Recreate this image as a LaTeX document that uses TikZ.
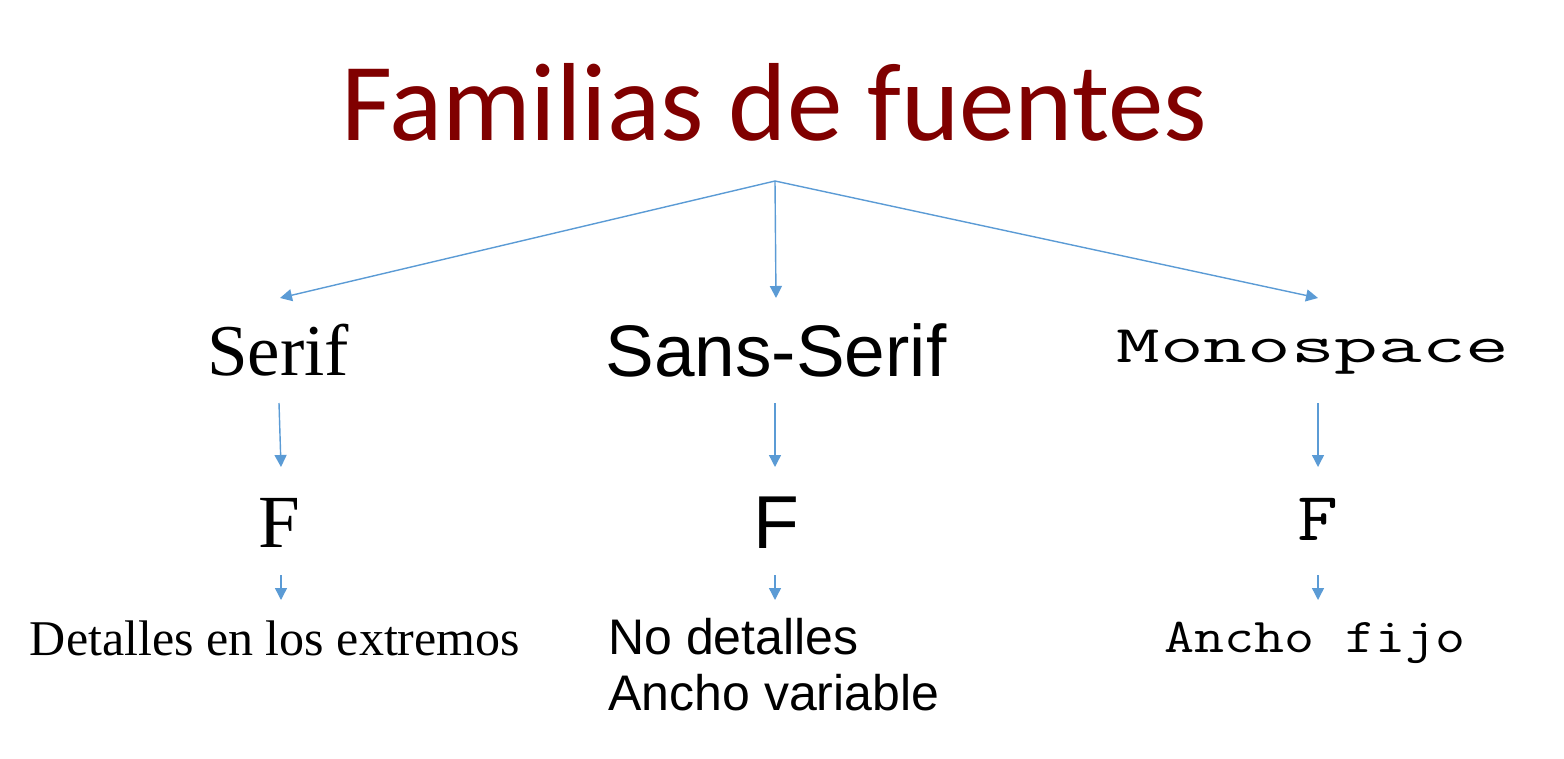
\documentclass[tikz,border=0pt]{standalone}
\usepackage{fontspec}
\setmainfont{Liberation Serif}
\newfontfamily\titlefont{Carlito}
\newfontfamily\arialfont{Liberation Sans}
\usepackage{tikz}
\usetikzlibrary{arrows.meta, positioning}

\definecolor{titlered}{RGB}{128,0,0}
\definecolor{arrowblue}{RGB}{91,155,213}

% text monospatiat, latit pe orizontala
\newcommand{\widemono}[3]{\scalebox{#1}[1]{\ttfamily\fontsize{#2}{#2}\selectfont #3}}

\begin{document}
\begin{tikzpicture}[x=0.5pt, y=-0.5pt, >={Triangle[length=6pt, width=6pt]}]
        % Stiluri
        \tikzset{
            label/.style = {anchor=base, inner sep=0pt, text=black},
            link/.style = {->, draw=arrowblue, line width=0.7pt}
        }
        \useasboundingbox (0,0) rectangle (1564,759);

        % Titlu
        \node [label, text=titlered, font=\titlefont\fontsize{55.5}{60}\selectfont] (title) at (774,141) {Familias de fuentes};

        % Familii
        \node [label, font=\fontsize{36.5}{40}\selectfont] (serif) at (278,375) {Serif};
        \node [label, font=\arialfont\fontsize{36.5}{40}\selectfont] (sans) at (776,377) {Sans-Serif};
        \node [label] (mono) at (1313,363) {\widemono{1.6}{26.5}{Monospace}};

        % Litere
        \node [label, font=\fontsize{37.5}{40}\selectfont] (fserif) at (279,547) {F};
        \node [label, font=\arialfont\fontsize{37.5}{40}\selectfont] (fsans) at (776,548) {F};
        \node [label] (fmono) at (1318,540) {\widemono{1.15}{34.5}{F}};

        % Descrieri
        \node [label, font=\fontsize{25}{28}\selectfont] (dserif) at (275,655) {Detalles en los extremos};
        \node [label, anchor=base west, font=\arialfont\fontsize{25}{28}\selectfont] (dsans) at (608,654) {No detalles};
        \node [label, anchor=base west, font=\arialfont\fontsize{25}{28}\selectfont] (dvar) at (608,710) {Ancho variable};
        \node [label] (dmono) at (1315,652) {\widemono{1.2}{24.3}{Ancho fijo}};

        % Puncte de legatura
        \coordinate (root) at (775,181);
        \coordinate (serif_in) at (280,298);
        \coordinate (sans_in) at (776,298);
        \coordinate (mono_in) at (1318,298);
        \coordinate (serif_out) at (279,403);
        \coordinate (sans_out) at (775,403);
        \coordinate (mono_out) at (1318,403);
        \coordinate (fserif_in) at (281,467);
        \coordinate (fsans_in) at (775,467);
        \coordinate (fmono_in) at (1318,467);
        \coordinate (fserif_out) at (281,575);
        \coordinate (fsans_out) at (775,575);
        \coordinate (fmono_out) at (1318,575);
        \coordinate (dserif_in) at (281,600);
        \coordinate (dsans_in) at (775,600);
        \coordinate (dmono_in) at (1318,600);

        % Sageti
        \draw [link] (root) -- (serif_in);
        \draw [link] (root) -- (sans_in);
        \draw [link] (root) -- (mono_in);
        \draw [link] (serif_out) -- (fserif_in);
        \draw [link] (sans_out) -- (fsans_in);
        \draw [link] (mono_out) -- (fmono_in);
        \draw [link] (fserif_out) -- (dserif_in);
        \draw [link] (fsans_out) -- (dsans_in);
        \draw [link] (fmono_out) -- (dmono_in);

    \end{tikzpicture}
\end{document}
